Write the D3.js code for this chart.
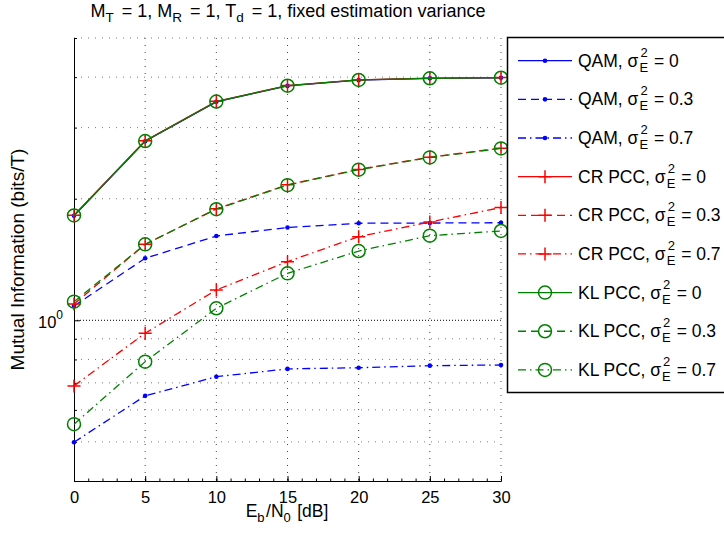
<!DOCTYPE html>
<html>
<head>
<meta charset="utf-8">
<script src="https://cdn.jsdelivr.net/npm/d3@7/dist/d3.min.js"></script>
<style>
  html, body { margin: 0; padding: 0; background: #fff; }
  svg { display: block; font-family: "Liberation Sans", Arial, Helvetica, sans-serif; }
</style>
</head>
<body>
<svg id="chart" width="724" height="539"></svg>
<script>
// ---------------- DATA ----------------
const ebn0 = [0, 5, 10, 15, 20, 25, 30];

const qam_0   = [1.815, 2.775, 3.475, 3.805, 3.932, 3.972, 3.985];
const qam_03  = [1.085, 1.424, 1.617, 1.697, 1.739, 1.741, 1.744];
const qam_07  = [0.499, 0.650, 0.725, 0.758, 0.763, 0.772, 0.775];

const cr_0    = [1.820, 2.782, 3.485, 3.812, 3.938, 3.976, 3.989];
const cr_03   = [1.097, 1.542, 1.888, 2.165, 2.364, 2.535, 2.668];
const cr_07   = [0.688, 0.929, 1.189, 1.397, 1.611, 1.751, 1.902];

const kl_0    = [1.818, 2.779, 3.481, 3.809, 3.936, 3.974, 3.987];
const kl_03   = [1.112, 1.542, 1.884, 2.161, 2.360, 2.531, 2.664];
const kl_07   = [0.553, 0.790, 1.071, 1.307, 1.484, 1.620, 1.664];

const seriesNames = ["QAM", "QAM", "QAM", "CR PCC", "CR PCC", "CR PCC", "KL PCC", "KL PCC", "KL PCC"];
const sigmaLabels = ["0", "0.3", "0.7", "0", "0.3", "0.7", "0", "0.3", "0.7"];
const seriesValues = [qam_0, qam_03, qam_07, cr_0, cr_03, cr_07, kl_0, kl_03, kl_07];

const xTicks = [0, 5, 10, 15, 20, 25, 30];
const xMinorTicks = d3.range(0, 30.01, 1);
const yMajorTicks = [1];
const yMinorTicks = [0.4, 0.5, 0.6, 0.7, 0.8, 0.9, 2, 3, 4, 5];

const titleParts = [["M", ""], ["T", "sub"], [" = 1, M", ""], ["R", "sub"], [" = 1, T", ""], ["d", "sub"], [" = 1, fixed estimation variance", ""]];
const xLabelParts = [["E", ""], ["b", "sub"], ["/N", ""], ["0", "sub"], [" [dB]", ""]];
const yLabel = "Mutual Information (bits/T)";

// ---------------- STYLES ----------------
const colors = { QAM: "#0000ff", "CR PCC": "#ff0000", "KL PCC": "#008000" };
const markers = { QAM: "dot", "CR PCC": "plus", "KL PCC": "circle" };
const dashes = ["none", "8,5", "8,4,1.5,4"];

// ---------------- LAYOUT ----------------
const svg = d3.select("#chart");
const L = 74, R = 501, T = 38, B = 481;

const x = d3.scaleLinear().domain([0, 30]).range([L, R]);
const y = d3.scaleLog().domain([0.4, 5]).range([B, T]);

// grid
const grid = svg.append("g");
grid.selectAll("line.hmin").data(yMinorTicks.filter(v => v > 0.4)).join("line")
  .attr("x1", L).attr("x2", R).attr("y1", d => y(d)).attr("y2", d => y(d))
  .attr("stroke", "#7a7a7a").attr("stroke-width", 1).attr("stroke-dasharray", "1,6");
grid.selectAll("line.hmaj").data(yMajorTicks).join("line")
  .attr("x1", L).attr("x2", R).attr("y1", d => y(d)).attr("y2", d => y(d))
  .attr("stroke", "#000").attr("stroke-width", 1).attr("stroke-dasharray", "1,2");
grid.selectAll("line.v").data(xTicks.filter(v => v > 0)).join("line")
  .attr("y1", T).attr("y2", B).attr("x1", d => x(d)).attr("x2", d => x(d))
  .attr("stroke", "#444").attr("stroke-width", 1).attr("stroke-dasharray", "1,6");

// axes
const fontSize = 16.5;
const xAxisMinor = d3.axisBottom(x).tickValues(xMinorTicks).tickSize(-2.5).tickSizeOuter(0).tickFormat("");
const xAxis = d3.axisBottom(x).tickValues(xTicks).tickSize(-5).tickSizeOuter(0).tickPadding(11).tickFormat(d3.format("d"));
const yAxisMinor = d3.axisLeft(y).tickValues(yMinorTicks).tickSize(-3).tickSizeOuter(0).tickFormat("");
const yAxis = d3.axisLeft(y).tickValues(yMajorTicks).tickSize(-6).tickSizeOuter(0).tickPadding(8).tickFormat("");

function styleAxis(g) {
  g.select(".domain").attr("stroke", "#000").attr("stroke-width", 1);
  g.selectAll(".tick line").attr("stroke", "#000").attr("stroke-width", 1);
  g.selectAll("text").attr("font-size", fontSize).attr("fill", "#000")
    .attr("font-family", "Liberation Sans, Arial, Helvetica, sans-serif");
}
svg.append("g").attr("transform", `translate(0,${B})`).call(xAxisMinor).call(styleAxis);
const gx = svg.append("g").attr("transform", `translate(0,${B})`).call(xAxis).call(styleAxis);
gx.selectAll("text").attr("dy", "0.71em").attr("y", 10);
svg.append("g").attr("transform", `translate(${L},0)`).call(yAxisMinor).call(styleAxis);
const gy = svg.append("g").attr("transform", `translate(${L},0)`).call(yAxis).call(styleAxis);
gy.selectAll(".tick").each(function(d) {
  const t = d3.select(this).append("text")
    .attr("x", -11).attr("y", 7).attr("text-anchor", "end")
    .attr("font-size", fontSize).attr("fill", "#000");
  const e = Math.round(Math.log10(d));
  t.append("tspan").text("10");
  t.append("tspan").attr("font-size", 12).attr("dy", -9).text(String(e));
});

// series
const line = d3.line().x((d, i) => x(ebn0[i])).y(d => y(d));
const plot = svg.append("g");

function drawMarker(g, type, color, cx, cy) {
  if (type === "dot") {
    g.append("circle").attr("cx", cx).attr("cy", cy).attr("r", 2.3).attr("fill", color);
  } else if (type === "plus") {
    g.append("path").attr("d", `M${cx - 6.5},${cy}H${cx + 6.5}M${cx},${cy - 6.5}V${cy + 6.5}`)
      .attr("stroke", color).attr("stroke-width", 1.5).attr("fill", "none");
  } else {
    g.append("circle").attr("cx", cx).attr("cy", cy).attr("r", 6.5)
      .attr("stroke", color).attr("stroke-width", 1.5).attr("fill", "none");
  }
}

seriesValues.forEach((vals, k) => {
  const name = seriesNames[k];
  const c = colors[name];
  const g = plot.append("g");
  g.append("path").datum(vals).attr("d", line)
    .attr("fill", "none").attr("stroke", c).attr("stroke-width", 1.3)
    .attr("stroke-dasharray", dashes[k % 3]);
  vals.forEach((v, i) => drawMarker(g, markers[name], c, x(ebn0[i]), y(v)));
});

// legend
const lg = svg.append("g");
lg.append("rect").attr("x", 507.5).attr("y", 37.5).attr("width", 240).attr("height", 355)
  .attr("fill", "#fff").attr("stroke", "#000").attr("stroke-width", 1.5);
const legFont = 17.5;
seriesValues.forEach((vals, k) => {
  const name = seriesNames[k];
  const c = colors[name];
  const cy = 60.7 + k * 38.65;
  const g = lg.append("g");
  g.append("line").attr("x1", 518).attr("x2", 572).attr("y1", cy).attr("y2", cy)
    .attr("stroke", c).attr("stroke-width", 1.3).attr("stroke-dasharray", dashes[k % 3]);
  drawMarker(g, markers[name], c, 545, cy);
  const base = cy + 6;
  const t1 = g.append("text").attr("x", 578).attr("y", base).attr("font-size", legFont).text(`${name}, σ`);
  const w1 = t1.node().getComputedTextLength();
  const xs = 578 + w1 + 1;
  const sup = g.append("text").attr("x", xs + 1).attr("y", base - 10).attr("font-size", 13).text("2");
  const sub = g.append("text").attr("x", xs).attr("y", base + 5).attr("font-size", 13).text("E");
  const w2 = Math.max(sup.node().getComputedTextLength() + 1, sub.node().getComputedTextLength());
  g.append("text").attr("x", xs + w2 + 1).attr("y", base).attr("font-size", legFont)
    .style("white-space", "pre").text(` = ${sigmaLabels[k]}`);
});

// text with subscripts
function richText(sel, parts, mainSize, subSize, gap) {
  parts.forEach(([s, kind], i) => {
    const ts = sel.append("tspan").text(s);
    if (kind === "sub") ts.attr("font-size", subSize).attr("dy", 5);
    else if (i > 0 && parts[i - 1][1] === "sub") ts.attr("dy", -5).attr("dx", gap);
  });
}

// title
const title = svg.append("text").attr("x", 288).attr("y", 17).attr("text-anchor", "middle")
  .attr("font-size", 18).style("white-space", "pre");
richText(title, titleParts, 18, 13.5, 3);

// x label
const xl = svg.append("text").attr("x", 287).attr("y", 517).attr("text-anchor", "middle")
  .attr("font-size", 17.5).style("white-space", "pre");
richText(xl, xLabelParts, 17.5, 13, 1.5);

// y label
svg.append("text").attr("transform", `translate(24,${(T + B) / 2}) rotate(-90)`)
  .attr("text-anchor", "middle").attr("font-size", 19).text(yLabel);
</script>
</body>
</html>
